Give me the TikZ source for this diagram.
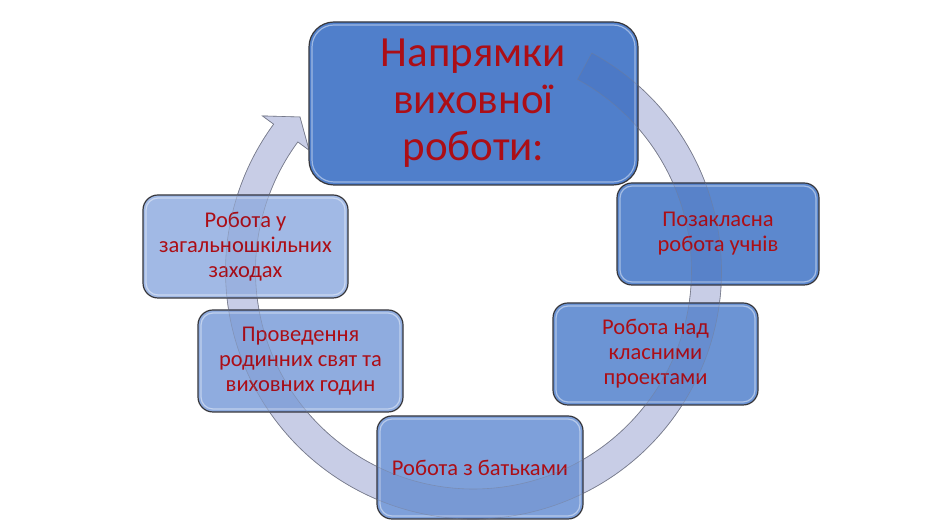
\documentclass[tikz,border=0pt]{standalone}
\usepackage{fontspec}
\setmainfont{Carlito}
\definecolor{txt}{RGB}{172,14,22}
\definecolor{boxline}{RGB}{55,55,60}
\definecolor{arcfill}{RGB}{210,215,236}
\definecolor{arcline}{RGB}{120,124,140}
\definecolor{cA}{RGB}{80,127,203}
\definecolor{cB}{RGB}{92,136,206}
\definecolor{cC}{RGB}{108,148,212}
\definecolor{cD}{RGB}{126,160,218}
\definecolor{cE}{RGB}{143,172,223}
\definecolor{cF}{RGB}{161,185,229}
\tikzset{
  bevel/.style={path picture={\draw[white,opacity=.45,line width=1.2pt,rounded corners=#1]
      ([xshift=3pt,yshift=3pt]path picture bounding box.south west) rectangle
      ([xshift=-3pt,yshift=-3pt]path picture bounding box.north east);}},
  box/.style={draw=boxline, line width=1.2pt, rounded corners=15pt, bevel=12pt,
      minimum width=205pt, minimum height=102pt, inner sep=0pt, align=center,
      text=txt, font=\fontsize{22.5}{25}\selectfont},
  bigbox/.style={box, rounded corners=25pt, bevel=22pt, minimum width=329pt,
      minimum height=163pt, font=\fontsize{43}{47}\selectfont},
  arcbase/.style={fill=arcfill, draw=arcline, line width=0.6pt},
  arcover/.style={fill=blue!40!black, fill opacity=0.045, draw=arcline, draw opacity=0.45, line width=0.6pt},
}
\begin{document}
\begin{tikzpicture}[x=1pt,y=1pt]
\useasboundingbox (0,0) rectangle (940,529);
\fill[white] (0,0) rectangle (940,529);
\coordinate (C) at (473.5,258);
\def\cyclearrow{([shift={(C)}]61.5:248) arc[start angle=61.5, end angle=-216.3, radius=248]
  -- ([shift={(C)}]-216.3:262) -- ([shift={(C)}]-221.6:232) -- ([shift={(C)}]-216.3:204)
  -- ([shift={(C)}]-216.3:218) arc[start angle=-216.3, end angle=61.5, radius=218] -- cycle}
\path[arcbase] \cyclearrow;
\node[bigbox, fill=cA] (top) at (473.5,425.5) {Напрямки\\виховної\\роботи:};
\node[box, fill=cB, minimum width=202pt] (n1) at (718,295) {Позакласна\\робота учнів};
\node[box, fill=cC] (n2) at (655.5,175) {Робота над\\класними\\проектами};
\node[box, fill=cD, minimum width=206pt, minimum height=103pt] (n3) at (480,61.5) {Робота з батьками};
\node[box, fill=cE] (n4) at (300.5,168) {Проведення\\родинних свят та\\виховних годин};
\node[box, fill=cF, minimum height=103pt] (n5) at (245.5,282.5) {Робота у\\загальношкільних\\заходах};
\path[arcover] \cyclearrow;
\end{tikzpicture}
\end{document}
